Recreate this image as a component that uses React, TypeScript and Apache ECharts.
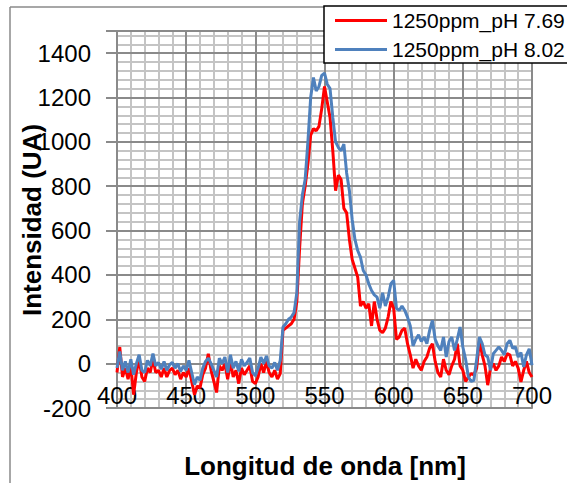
import React, { useEffect, useRef } from "react";
import * as echarts from "echarts";

// Sampling of the spectra (nm)
const WL_START = 400;
const WL_STEP = 2;

// Series names
const SERIES_NAMES = ["1250ppm_pH 7.69", "1250ppm_pH 8.02"];

// Intensity (UA), every 2 nm from 400 to 700 nm
const RED_PH769 = [
  -40, 75, -60, -20, -70, -10, -140, -40, 20, -60,
  -80, -20, -40, 20, -40, -30, -60, -20, -60, -30,
  -20, -50, -30, -70, -40, -60, -20, -80, -140, -100,
  -110, -50, -20, 45, -30, -80, -130, -10, -30, 0,
  -70, 10, -60, -30, -90, -20, -50, -30, -10, -80,
  -90, -60, 0, -40, 10, -40, -60, -30, -70, -45,
  150, 160, 170, 180, 200, 280, 520, 720, 800, 900,
  1030, 1060, 1050, 1070, 1150, 1250, 1180, 1110, 960, 780,
  850, 830, 700, 680, 560, 470, 430, 390, 260, 280,
  250, 270, 170, 280, 200, 150, 140, 160, 210, 280,
  250, 110, 120, 150, 160, 90, 40, -20, 20, -10,
  -30, 10, 30, 70, 90, 10, -40, -60, 20, -30,
  -50, -10, 20, 90, -10, -30, -80, -60, -45, -50,
  -20, 105, 40, -10, -97, -20, 0, -30, -10, 30,
  10, 45, 40, -10, 10, -20, -82, -30, 10, -40,
  -60,
];

const BLUE_PH802 = [
  -20, 55, -30, 10, -40, 20, -50, 0, 40, -30,
  -40, 15, -10, 45, -10, 5, -25, 10, -30, -5,
  5, -20, 0, -35, -10, -30, 15, -40, -95, -60,
  -75, -20, 10, 25, 0, -30, -60, 25, 0, 30,
  -40, 40, -20, 10, -35, 20, -10, 5, 25, -40,
  -55, -20, 30, 0, 35, -10, -20, 5, -30, 15,
  165, 180, 200, 210, 230, 320, 640, 760, 830, 1000,
  1200, 1290, 1230, 1250, 1300, 1310, 1260, 1240, 1110, 1000,
  975, 960, 990, 860, 780, 650, 560, 510, 480, 420,
  400, 360, 330, 310, 300, 250, 320, 260, 300, 360,
  375, 250, 240, 260, 240, 210, 170, 80, 110, 130,
  100, 120, 90, 150, 195, 110, 80, 60, 120, 30,
  100, 120, 60, 110, 165, 75, 20, -60, -80, -75,
  20, 120, 90, 40, 30, -30, 45, 60, 75, 60,
  40, 90, 105, 70, 75, 30, 50, -15, 40, 67,
  -7,
];

const X_TICKS = [400, 450, 500, 550, 600, 650, 700];
const Y_TICKS = [-200, 0, 200, 400, 600, 800, 1000, 1200, 1400];

const FONT = "'Liberation Sans', Arial, sans-serif";

function toPairs(values: number[]) {
  return values.map((v, i) => [WL_START + i * WL_STEP, v]);
}

export default function App() {
  const ref = useRef<HTMLDivElement>(null);

  useEffect(() => {
    if (!ref.current) return;
    const chart = echarts.init(ref.current, null, { renderer: "svg" });
    const majorColor = "#8a8a8a";
    const minorColor = "#c4c4c4";
    const xMin = X_TICKS[0];
    const xMax = X_TICKS[X_TICKS.length - 1];
    const yMin = Y_TICKS[0];
    const yMax = 1500;

    chart.setOption({
      animation: false,
      backgroundColor: "#ffffff",
      textStyle: { fontFamily: FONT },
      grid: { left: 117, top: 31, right: 35, bottom: 75, containLabel: false },
      legend: {
        orient: "vertical",
        left: 324,
        top: 6,
        padding: [4, 10, 3, 11],
        backgroundColor: "#ffffff",
        borderColor: "#000000",
        borderWidth: 1.5,
        borderRadius: 0,
        itemWidth: 52,
        itemHeight: 3,
        itemGap: 8,
        icon: "rect",
        textStyle: { fontSize: 21, color: "#000", fontFamily: FONT, padding: [0, 0, 0, 0] },
        data: SERIES_NAMES,
      },
      xAxis: [
        {
          type: "value",
          min: xMin,
          max: xMax,
          interval: 50,
          z: 1,
          axisLine: { show: true, onZero: false, lineStyle: { color: majorColor, width: 2 } },
          axisTick: { show: false },
          axisLabel: {
            inside: true,
            margin: 1,
            fontSize: 24,
            color: "#000",
            fontFamily: FONT,
          },
          splitLine: { show: true, lineStyle: { color: majorColor, width: 2 } },
        },
        {
          type: "value",
          min: xMin,
          max: xMax,
          interval: 10,
          z: 0,
          axisLine: { show: false },
          axisTick: { show: false },
          axisLabel: { show: false },
          splitLine: { show: true, lineStyle: { color: minorColor, width: 2 } },
        },
      ],
      yAxis: [
        {
          type: "value",
          min: yMin,
          max: yMax,
          interval: 200,
          z: 1,
          axisLine: { show: true, onZero: false, lineStyle: { color: majorColor, width: 2 } },
          axisTick: { show: true, length: 11, lineStyle: { color: majorColor, width: 2 } },
          axisLabel: {
            margin: 26,
            fontSize: 24,
            color: "#000",
            fontFamily: FONT,
            formatter: (v: number) => (Y_TICKS.indexOf(v) >= 0 ? String(v) : ""),
          },
          splitLine: { show: true, lineStyle: { color: majorColor, width: 2 } },
        },
        {
          type: "value",
          min: yMin,
          max: yMax,
          interval: 40,
          z: 0,
          position: "left",
          axisLine: { show: false },
          axisTick: { show: false },
          axisLabel: { show: false },
          splitLine: { show: true, lineStyle: { color: minorColor, width: 2 } },
        },
      ],
      series: [
        {
          name: SERIES_NAMES[0],
          type: "line",
          xAxisIndex: 0,
          yAxisIndex: 0,
          showSymbol: false,
          symbol: "none",
          data: toPairs(RED_PH769),
          lineStyle: { color: "#ff0000", width: 3 },
          itemStyle: { color: "#ff0000" },
          z: 3,
        },
        {
          name: SERIES_NAMES[1],
          type: "line",
          xAxisIndex: 0,
          yAxisIndex: 0,
          showSymbol: false,
          symbol: "none",
          data: toPairs(BLUE_PH802),
          lineStyle: { color: "#4f81bd", width: 3 },
          itemStyle: { color: "#4f81bd" },
          z: 4,
        },
      ],
      graphic: [
        {
          type: "line",
          shape: { x1: 10, y1: 7, x2: 10, y2: 483 },
          style: { stroke: "#8a8a8a", lineWidth: 1.5 },
          z: 0,
        },
        {
          type: "line",
          shape: { x1: 10, y1: 7, x2: 567, y2: 7 },
          style: { stroke: "#8a8a8a", lineWidth: 1.5 },
          z: 0,
        },
        {
          type: "text",
          x: 32,
          y: 220,
          rotation: Math.PI / 2,
          style: {
            text: "Intensidad (UA)",
            font: `bold 26px ${FONT}`,
            fill: "#000",
            textAlign: "center",
            textVerticalAlign: "middle",
          },
          z: 5,
        },
        {
          type: "text",
          x: 325,
          y: 466,
          style: {
            text: "Longitud de onda [nm]",
            font: `bold 26px ${FONT}`,
            fill: "#000",
            textAlign: "center",
            textVerticalAlign: "middle",
          },
          z: 5,
        },
      ],
    });

    return () => chart.dispose();
  }, []);

  return <div ref={ref} style={{ width: 567, height: 483, position: "absolute", left: 0, top: 0 }} />;
}
